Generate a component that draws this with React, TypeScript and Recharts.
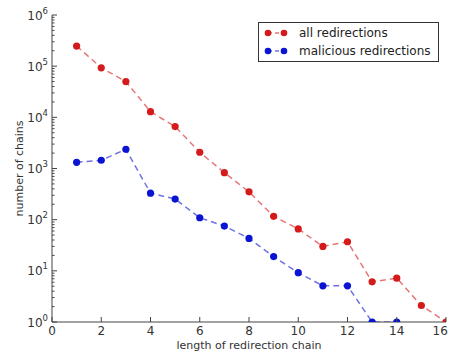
import React from 'react';
import { LineChart, Line, XAxis, YAxis, Legend } from 'recharts';

const chainLength = [1, 2, 3, 4, 5, 6, 7, 8, 9, 10, 11, 12, 13, 14, 15, 16];
const allRedirections = [247000, 93000, 50000, 12900, 6600, 2080, 830, 350, 116, 66, 30, 37, 6.1, 7.2, 2.1, 1];
const maliciousRedirections = [1320, 1450, 2370, 330, 253, 109, 75, 43, 19, 9.2, 5.1, 5.1, 1, 1, null, null];
const xTicks = [0, 2, 4, 6, 8, 10, 12, 14, 16];
const yDecades = [1, 10, 100, 1000, 10000, 100000];
const yTicks: number[] = [];
yDecades.forEach((d) => {
  for (let k = 1; k <= 9; k++) yTicks.push(k * d);
});
yTicks.push(1000000);

const data = chainLength.map((x, i) => ({
  x,
  all: allRedirections[i],
  mal: maliciousRedirections[i],
}));

const FONT = '"DejaVu Sans", sans-serif';
const AXIS = '#444';
const TXT = '#333';
const RED = '#d41a1a';
const BLUE = '#0a14d2';
const CHART_W = 449;
const CHART_H = 352;

const isMajor = (v: number) => {
  const l = Math.log10(v);
  return Math.abs(l - Math.round(l)) < 1e-9;
};

const LeftTick = (props: any) => {
  const { x, y, payload } = props;
  const v = payload.value;
  const major = isMajor(v);
  const len = major ? 5 : 2.5;
  return (
    <g>
      <line x1={x} x2={x + len} y1={y} y2={y} stroke={AXIS} strokeWidth={1} />
      {major && (
        <text x={x - 4} y={y + 4.5} textAnchor="end" fontSize={12} fill={TXT} fontFamily={FONT}>
          <tspan>10</tspan>
          <tspan dy={-6} fontSize={8.5}>{Math.round(Math.log10(v))}</tspan>
        </text>
      )}
    </g>
  );
};

const RightTick = (props: any) => {
  const { x, y, payload } = props;
  const major = isMajor(payload.value);
  const len = major ? 5 : 2.5;
  return <line x1={x} x2={x - len} y1={y} y2={y} stroke={AXIS} strokeWidth={1} />;
};

const BottomTick = (props: any) => {
  const { x, y, payload } = props;
  const label = String(payload.value);
  const halfW = label.length * 3.9;
  const tx = Math.min(x, CHART_W - 1 - halfW);
  return (
    <g>
      <line x1={x} x2={x} y1={y} y2={y - 5} stroke={AXIS} strokeWidth={1} />
      <text x={tx} y={y + 13} textAnchor="middle" fontSize={12} fill={TXT} fontFamily={FONT}>
        {label}
      </text>
    </g>
  );
};

const TopTick = (props: any) => {
  const { x, y } = props;
  return <line x1={x} x2={x} y1={y} y2={y + 5} stroke={AXIS} strokeWidth={1} />;
};

const renderLegend = (props: any) => {
  const { payload } = props;
  return (
    <div
      style={{
        boxSizing: 'border-box',
        width: 181,
        height: 40,
        border: '1px solid #333',
        background: '#fff',
        paddingTop: 1,
        fontFamily: FONT,
        fontSize: 12,
        color: '#222',
      }}
    >
      {(payload || []).map((entry: any) => (
        <div key={entry.value} style={{ height: 18, display: 'flex', alignItems: 'center' }}>
          <svg width={40} height={18} style={{ display: 'block', flex: 'none' }}>
            <line x1={9} x2={25} y1={9} y2={9} stroke={entry.color} strokeOpacity={0.6} strokeWidth={1.5} strokeDasharray="4 3" />
            <circle cx={9} cy={9} r={3.3} fill={entry.color} />
            <circle cx={25} cy={9} r={3.3} fill={entry.color} />
          </svg>
          <span style={{ whiteSpace: 'nowrap' }}>{entry.value}</span>
        </div>
      ))}
    </div>
  );
};

const YLabel = (props: any) => {
  const vb = props.viewBox || {};
  const cx = 19;
  const cy = (vb.y || 0) + (vb.height || 0) / 2;
  return (
    <text
      x={cx}
      y={cy}
      transform={`rotate(-90 ${cx} ${cy})`}
      textAnchor="middle"
      dominantBaseline="central"
      fontSize={11}
      fill={TXT}
      fontFamily={FONT}
    >
      number of chains
    </text>
  );
};

const XLabel = (props: any) => {
  const vb = props.viewBox || {};
  const cx = (vb.x || 0) + (vb.width || 0) / 2;
  const y = (vb.y || 0) + 27;
  return (
    <text x={cx} y={y} textAnchor="middle" fontSize={11} fill={TXT} fontFamily={FONT}>
      length of redirection chain
    </text>
  );
};

export default function App() {
  return (
    <div
      style={{
        position: 'absolute',
        left: 0,
        top: 0,
        width: CHART_W,
        height: CHART_H,
        overflow: 'hidden',
        background: '#fff',
      }}
    >
      <LineChart width={CHART_W} height={CHART_H} data={data} margin={{ top: 15, right: 3, bottom: 0, left: 0 }}>
        <XAxis
          xAxisId="bottom"
          dataKey="x"
          type="number"
          domain={[0, 16]}
          ticks={xTicks}
          interval={0}
          allowDataOverflow
          height={30}
          tickSize={0}
          tickMargin={0}
          tickLine={false}
          tick={<BottomTick />}
          axisLine={{ stroke: AXIS, strokeWidth: 1 }}
          label={{ content: XLabel } as any}
        />
        <XAxis
          xAxisId="top"
          orientation="top"
          dataKey="x"
          type="number"
          domain={[0, 16]}
          ticks={xTicks}
          interval={0}
          allowDataOverflow
          height={0}
          tickSize={0}
          tickMargin={0}
          tickLine={false}
          tick={<TopTick />}
          axisLine={{ stroke: AXIS, strokeWidth: 1 }}
        />
        <YAxis
          yAxisId="left"
          type="number"
          scale="log"
          domain={[1, 1000000]}
          allowDataOverflow
          ticks={yTicks}
          interval={0}
          width={52}
          tickSize={0}
          tickMargin={0}
          tickLine={false}
          tick={<LeftTick />}
          axisLine={{ stroke: AXIS, strokeWidth: 1 }}
          label={{ content: YLabel } as any}
        />
        <YAxis
          yAxisId="right"
          orientation="right"
          type="number"
          scale="log"
          domain={[1, 1000000]}
          allowDataOverflow
          ticks={yTicks}
          interval={0}
          width={0}
          tickSize={0}
          tickMargin={0}
          tickLine={false}
          tick={<RightTick />}
          axisLine={{ stroke: AXIS, strokeWidth: 1 }}
        />
        <Legend
          layout="vertical"
          align="center"
          verticalAlign="middle"
          content={renderLegend}
          wrapperStyle={{ left: 258, top: 22, width: 181, height: 40 }}
        />
        <Line
          xAxisId="bottom"
          yAxisId="left"
          name="all redirections"
          dataKey="all"
          stroke={RED}
          strokeOpacity={0.6}
          strokeWidth={1.5}
          strokeDasharray="6 4"
          dot={{ r: 3.6, fill: RED, stroke: 'none', strokeDasharray: '0', fillOpacity: 1 }}
          activeDot={false}
          isAnimationActive={false}
        />
        <Line
          xAxisId="bottom"
          yAxisId="left"
          name="malicious redirections"
          dataKey="mal"
          stroke={BLUE}
          strokeOpacity={0.6}
          strokeWidth={1.5}
          strokeDasharray="6 4"
          dot={{ r: 3.6, fill: BLUE, stroke: 'none', strokeDasharray: '0', fillOpacity: 1 }}
          activeDot={false}
          isAnimationActive={false}
        />
      </LineChart>
    </div>
  );
}
